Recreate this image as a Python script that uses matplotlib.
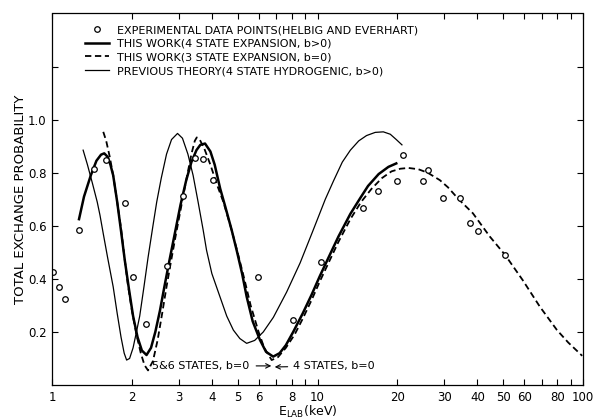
import matplotlib
matplotlib.use('Agg')
import matplotlib.pyplot as plt
from matplotlib.lines import Line2D
from matplotlib.ticker import FixedLocator, NullLocator

# Experimental data points (Helbig and Everhart)
exp_E = [1.01, 1.065, 1.12, 1.264, 1.443, 1.597, 1.878, 2.017, 2.255, 2.70, 3.11, 3.45,
         3.72, 4.03, 5.99, 8.09, 10.35, 14.9, 16.85, 19.97, 21.0, 24.9, 26.0, 29.7,
         34.4, 37.4, 40.4, 50.9]
exp_P = [0.427, 0.37, 0.325, 0.584, 0.813, 0.847, 0.684, 0.407, 0.23, 0.448, 0.711, 0.854,
         0.85, 0.771, 0.407, 0.245, 0.464, 0.668, 0.732, 0.770, 0.867, 0.770, 0.81, 0.703,
         0.703, 0.609, 0.58, 0.49]

# This work (4 state expansion, b>0) - thick solid
E4 = [1.264, 1.32, 1.40, 1.47, 1.53, 1.573, 1.62, 1.66, 1.70, 1.76, 1.82, 1.88, 1.95, 2.02,
      2.10, 2.18, 2.27, 2.36, 2.45, 2.55, 2.65, 2.77, 2.90, 3.05, 3.20, 3.35, 3.50, 3.62,
      3.77, 3.95, 4.10, 4.30, 4.50, 4.75, 4.96, 5.20, 5.41, 5.70, 6.07, 6.40, 6.81, 7.20,
      7.60, 8.10, 8.80, 9.50, 10.2, 11.0, 12.0, 13.3, 14.5, 15.5, 17.0, 18.5, 19.8]
P4 = [0.625, 0.71, 0.79, 0.845, 0.868, 0.873, 0.86, 0.83, 0.79, 0.69, 0.58, 0.47, 0.36, 0.26,
      0.18, 0.13, 0.113, 0.14, 0.20, 0.28, 0.37, 0.47, 0.57, 0.68, 0.77, 0.84, 0.885, 0.905,
      0.91, 0.88, 0.83, 0.74, 0.67, 0.584, 0.508, 0.42, 0.333, 0.24, 0.17, 0.125, 0.107, 0.12,
      0.15, 0.20, 0.27, 0.34, 0.41, 0.48, 0.56, 0.645, 0.705, 0.75, 0.795, 0.822, 0.835]

# This work (3 state expansion, b=0) - dashed
E3 = [1.56, 1.60, 1.65, 1.70, 1.76, 1.82, 1.87, 1.93, 2.00, 2.08, 2.16, 2.23, 2.30, 2.40,
      2.50, 2.60, 2.70, 2.80, 2.92, 3.05, 3.20, 3.35, 3.45, 3.51, 3.60, 3.75, 3.95, 4.20,
      4.42, 4.70, 5.00, 5.30, 5.60, 6.00, 6.30, 6.72, 7.10, 7.60, 8.20, 8.80, 9.50, 10.2,
      11.0, 12.0, 13.3, 14.6, 16.0, 17.5, 19.0, 20.5, 22.0, 24.0, 26.0, 28.9, 31.0, 34.0,
      38.5, 44.6, 50.9, 59.3, 68.8, 79.8, 88.0, 99.3]
P3 = [0.954, 0.92, 0.86, 0.79, 0.69, 0.59, 0.49, 0.38, 0.28, 0.19, 0.12, 0.075, 0.055, 0.09,
      0.17, 0.27, 0.37, 0.46, 0.56, 0.66, 0.77, 0.87, 0.92, 0.933, 0.925, 0.89, 0.83, 0.75,
      0.69, 0.60, 0.50, 0.40, 0.30, 0.20, 0.14, 0.094, 0.105, 0.14, 0.19, 0.25, 0.32, 0.39,
      0.46, 0.54, 0.625, 0.69, 0.74, 0.78, 0.805, 0.815, 0.818, 0.813, 0.80, 0.772, 0.745, 0.70,
      0.647, 0.559, 0.49, 0.395, 0.295, 0.207, 0.16, 0.11]

# Previous theory (4 state hydrogenic, b>0) - thin solid
Ep = [1.31, 1.36, 1.42, 1.48, 1.516, 1.56, 1.62, 1.70, 1.76, 1.82, 1.87, 1.91, 1.96, 2.02,
      2.08, 2.14, 2.22, 2.30, 2.40, 2.48, 2.58, 2.70, 2.82, 2.97, 3.10, 3.25, 3.40, 3.55,
      3.71, 3.82, 4.00, 4.29, 4.55, 4.82, 5.10, 5.41, 5.80, 6.25, 6.82, 7.65, 8.60, 9.60,
      10.7, 11.5, 12.4, 13.3, 14.3, 15.3, 16.5, 17.7, 18.8, 19.8, 20.8]
Pp = [0.885, 0.83, 0.76, 0.69, 0.64, 0.57, 0.48, 0.37, 0.27, 0.18, 0.12, 0.094, 0.10, 0.14,
      0.20, 0.26, 0.37, 0.48, 0.60, 0.69, 0.78, 0.87, 0.925, 0.948, 0.93, 0.87, 0.79, 0.69,
      0.584, 0.508, 0.42, 0.333, 0.26, 0.207, 0.175, 0.157, 0.168, 0.20, 0.255, 0.35, 0.46,
      0.58, 0.70, 0.77, 0.84, 0.885, 0.92, 0.94, 0.952, 0.954, 0.945, 0.925, 0.905]

x_ticks = [1, 2, 3, 4, 5, 6, 7, 8, 9, 10, 20, 30, 40, 50, 60, 70, 80, 90, 100]
x_labels = ['1', '2', '3', '4', '5', '6', '', '8', '', '10', '20', '30', '40', '50', '60',
            '', '80', '', '100']
y_ticks = [0.2, 0.4, 0.6, 0.8, 1.0, 1.2]
y_labels = ['0.2', '0.4', '0.6', '0.8', '1.0', '']

legend_labels = ['EXPERIMENTAL DATA POINTS(HELBIG AND EVERHART)',
                 'THIS WORK(4 STATE EXPANSION, b>0)',
                 'THIS WORK(3 STATE EXPANSION, b=0)',
                 'PREVIOUS THEORY(4 STATE HYDROGENIC, b>0)']

plt.rcParams['font.family'] = ['DejaVu Sans']
fig = plt.figure(figsize=(5.97, 4.19), dpi=100)
ax = fig.add_axes([52 / 597, 1 - 385 / 419, 531 / 597, 371.5 / 419])
ax.set_xscale('log')

ax.plot(Ep, Pp, color='black', lw=0.9)
ax.plot(E4, P4, color='black', lw=1.8)
ax.plot(E3, P3, color='black', lw=1.3, ls=(0, (3.5, 2)))
ax.plot(exp_E, exp_P, ls='none', marker='o', ms=4, mfc='white', mec='black', mew=0.9)

ax.set_xlim(1, 100)
ax.set_ylim(0, 1.4)
ax.xaxis.set_major_locator(FixedLocator(x_ticks))
ax.xaxis.set_minor_locator(NullLocator())
ax.set_xticklabels(x_labels)
ax.yaxis.set_major_locator(FixedLocator(y_ticks))
ax.yaxis.set_minor_locator(NullLocator())
ax.set_yticklabels(y_labels)
ax.tick_params(direction='in', top=True, right=True, length=4, width=0.8,
               labelsize=8.5, pad=4)
for s in ax.spines.values():
    s.set_linewidth(0.9)

ax.set_ylabel('TOTAL EXCHANGE PROBABILITY', fontsize=9.5, labelpad=0.5)
ax.set_xlabel('E$_{\\mathregular{LAB}}$(keV)', fontsize=9, labelpad=0.5, x=0.482)

handles = [Line2D([], [], ls='none', marker='o', ms=4, mfc='white', mec='black', mew=0.9),
           Line2D([], [], color='black', lw=1.8),
           Line2D([], [], color='black', lw=1.3, ls=(0, (3.5, 2))),
           Line2D([], [], color='black', lw=0.9)]
ax.legend(handles, legend_labels, loc='upper left', bbox_to_anchor=(0.062, 0.969),
          frameon=False, fontsize=8, handlelength=2.2, handletextpad=0.7,
          labelspacing=0.33, borderpad=0, borderaxespad=0)

ax.annotate('5&6 STATES, b=0', xy=(6.7, 0.072), xytext=(2.38, 0.072),
            fontsize=8, va='center', ha='left',
            arrowprops=dict(arrowstyle='->', lw=0.8, shrinkA=3, shrinkB=0))
ax.annotate('4 STATES, b=0', xy=(6.9, 0.068), xytext=(8.1, 0.072),
            fontsize=8, va='center', ha='left',
            arrowprops=dict(arrowstyle='->', lw=0.8, shrinkA=2, shrinkB=0))

fig.savefig('out.png', dpi=100)
